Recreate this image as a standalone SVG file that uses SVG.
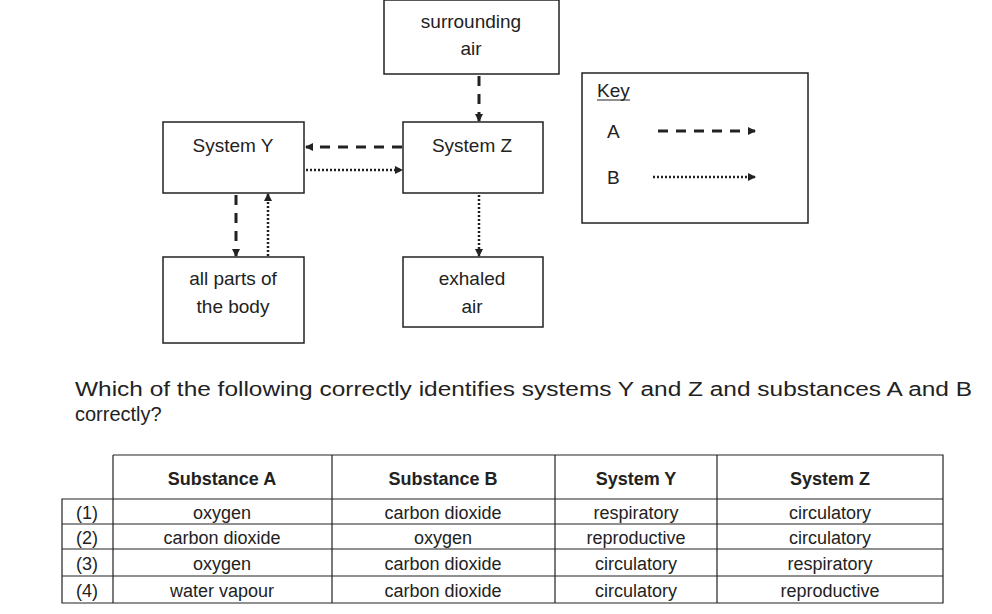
<svg xmlns="http://www.w3.org/2000/svg" width="992" height="614" viewBox="0 0 992 614">
<style>
.b{fill:#fff;stroke:#222;stroke-width:1.5}
text{font-family:"Liberation Sans",Arial,sans-serif;font-size:19px;fill:#222}
.c{text-anchor:middle}
.h{font-weight:bold;font-size:18px}
.t{font-size:18px}
.q{font-size:20px}
.da{stroke:#222;stroke-width:3;stroke-dasharray:10,8;fill:none}
.do{stroke:#222;stroke-width:2.5;stroke-dasharray:2,2;fill:none}
.g{stroke:#222;stroke-width:1.2;fill:none}
</style>
<defs>
<marker id="ah" markerWidth="8" markerHeight="8" refX="7" refY="4" orient="auto" markerUnits="userSpaceOnUse"><path d="M0,0L8,4L0,8z" fill="#222"/></marker>
</defs>
<rect width="992" height="614" fill="#fff"/>
<g id="surrounding"><rect class="b" x="384" y="0" width="175" height="74"/><text class="c" x="471" y="28">surrounding</text><text class="c" x="471" y="55">air</text></g>
<g id="systemY"><rect class="b" x="163" y="122" width="141" height="71"/><text class="c" x="233" y="152">System Y</text></g>
<g id="systemZ"><rect class="b" x="403" y="122" width="140" height="71"/><text class="c" x="472" y="152">System Z</text></g>
<g id="parts"><rect class="b" x="163" y="257" width="141" height="86"/><text class="c" x="233" y="285">all parts of</text><text class="c" x="233" y="313">the body</text></g>
<g id="exhaled"><rect class="b" x="403" y="257" width="140" height="70"/><text class="c" x="472" y="285">exhaled</text><text class="c" x="472" y="313">air</text></g>
<g id="key"><rect class="b" x="582" y="73" width="226" height="150"/>
<text x="597" y="97">Key</text><line class="g" x1="597" y1="100" x2="630" y2="100"/>
<text x="607" y="138">A</text><text x="607" y="184">B</text>
<line class="da" x1="658" y1="131" x2="755" y2="131" marker-end="url(#ah)"/>
<line class="do" x1="653" y1="177" x2="755" y2="177" marker-end="url(#ah)"/></g>
<g id="connectors">
<line class="da" x1="479" y1="76" x2="479" y2="121" marker-end="url(#ah)"/>
<line class="da" x1="402" y1="147" x2="306" y2="147" marker-end="url(#ah)"/>
<line class="do" x1="306" y1="170" x2="402" y2="170" marker-end="url(#ah)"/>
<line class="da" x1="236" y1="195" x2="236" y2="256" marker-end="url(#ah)"/>
<line class="do" x1="268" y1="256" x2="268" y2="194" marker-end="url(#ah)"/>
<line class="do" x1="479" y1="195" x2="479" y2="256" marker-end="url(#ah)"/>
</g>
<g id="question"><text class="q" x="75" y="396" textLength="897" lengthAdjust="spacingAndGlyphs">Which of the following correctly identifies systems Y and Z and substances A and B</text><text class="q" x="75" y="421">correctly?</text></g>
<g id="table">
<path class="g" d="M113,455H943V603H62V499H943M62,524H943M62,549H943M62,576H943M113,455V603M332,455V603M555,455V603M717,455V603M943,455V603M62,499V603"/>
<text class="c h" x="222" y="485">Substance A</text><text class="c h" x="443" y="485">Substance B</text><text class="c h" x="636" y="485">System Y</text><text class="c h" x="830" y="485">System Z</text>
<text class="c t" x="87" y="519">(1)</text><text class="c t" x="222" y="519">oxygen</text><text class="c t" x="443" y="519">carbon dioxide</text><text class="c t" x="636" y="519">respiratory</text><text class="c t" x="830" y="519">circulatory</text>
<text class="c t" x="87" y="544">(2)</text><text class="c t" x="222" y="544">carbon dioxide</text><text class="c t" x="443" y="544">oxygen</text><text class="c t" x="636" y="544">reproductive</text><text class="c t" x="830" y="544">circulatory</text>
<text class="c t" x="87" y="570">(3)</text><text class="c t" x="222" y="570">oxygen</text><text class="c t" x="443" y="570">carbon dioxide</text><text class="c t" x="636" y="570">circulatory</text><text class="c t" x="830" y="570">respiratory</text>
<text class="c t" x="87" y="597">(4)</text><text class="c t" x="222" y="597">water vapour</text><text class="c t" x="443" y="597">carbon dioxide</text><text class="c t" x="636" y="597">circulatory</text><text class="c t" x="830" y="597">reproductive</text>
</g>
</svg>
